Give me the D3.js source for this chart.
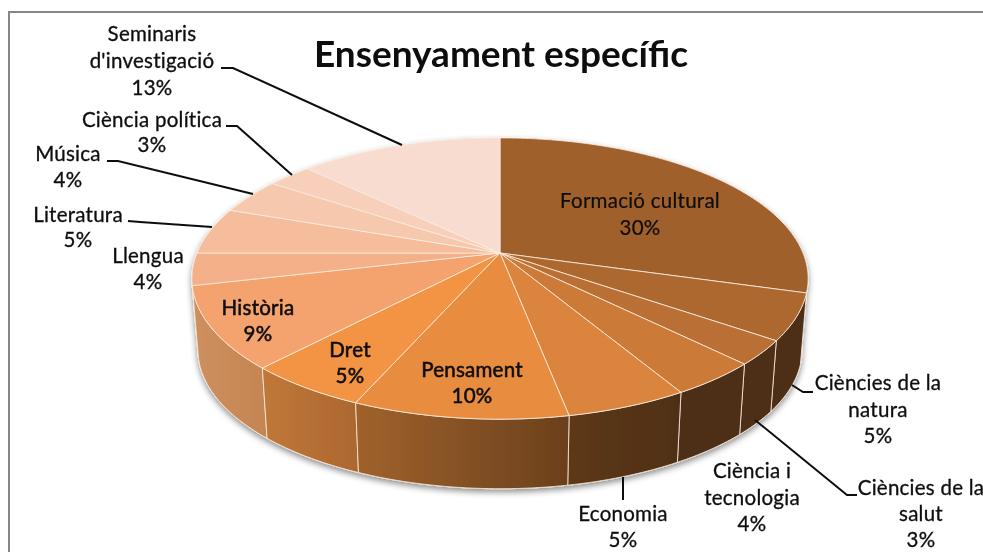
<!DOCTYPE html>
<html><head><meta charset="utf-8">
<script src="https://cdn.jsdelivr.net/npm/d3@7/dist/d3.min.js"></script>
<style>html,body{margin:0;padding:0;background:#fff}svg{display:block}text{font-family:Lato,"Open Sans",sans-serif;fill:#0d0d0d}</style>
</head><body><script>
const categories=["Formació cultural","Ciències de la natura","Ciències de la salut","Ciència i tecnologia","Economia","Pensament","Dret","Història","Llengua","Literatura","Música","Ciència política","Seminaris d'investigació"];
const values=[29.5,5.3,2.8,4.0,5.4,9.5,5.4,9.4,3.7,5.4,4.1,2.8,12.7];
const topColors=["#a0602c","#ad682f","#ba7034","#cc7a38","#da843e","#e88c40","#f39444","#f4a26e","#f4b088","#f5bd9c","#f6c8ae","#f7cfba","#f8dccf"];
const wallLeft=["#4e2e14","#4e2e14","#4e2e14","#4e2e14","#5e3818","#a0622c","#c0783a","#cf9060","#cf9060","#cf9060","#cf9060","#cf9060","#cf9060"];
const wallRight=["#4e2e14","#4e2e14","#4e2e14","#4e2e14","#4f2f15","#6b401c","#ac672f","#c48552","#cf9060","#cf9060","#cf9060","#cf9060","#cf9060"];
const titleText="Ensenyament específic";
const labelLayout=[
 {lines:["Formació cultural"],x:640,y:208,pctY:235,heavy:0.2},
 {lines:["Ciències de la","natura"],x:878,y:390,pctY:443,heavy:0.3},
 {lines:["Ciències de la","salut"],x:921,y:495,pctY:547,heavy:0.3},
 {lines:["Ciència i","tecnologia"],x:752,y:478,pctY:531,heavy:0.3},
 {lines:["Economia"],x:623,y:521,pctY:547,heavy:0.3},
 {lines:["Pensament"],x:472,y:377,pctY:403,heavy:0.55},
 {lines:["Dret"],x:350,y:357,pctY:383,heavy:0.55},
 {lines:["Història"],x:258,y:315,pctY:341,heavy:0.55},
 {lines:["Llengua"],x:148,y:263,pctY:289,heavy:0.3},
 {lines:["Literatura"],x:78,y:222,pctY:247,heavy:0.3},
 {lines:["Música"],x:68,y:161,pctY:187,heavy:0.3},
 {lines:["Ciència política"],x:152,y:127,pctY:152,heavy:0.3},
 {lines:["Seminaris","d'investigació"],x:152,y:41,pctY:95,heavy:0.3}
];
const leaders=[
 [[221,68],[233,68],[402,145]],
 [[226,126],[237,126],[292,175]],
 [[107,161],[118,161],[253,194]],
 [[128,221],[140,222],[212,227]],
 [[813,392],[803,392],[792,385]],
 [[857,495],[847,495],[755,420]],
 [[623,477],[623,500]]
];
const W=983,H=552,K=0.1815;
const rimTop={cx:500,cy:253,a:136,b:303};
const rimBottom={cx:500,cy:325,a:134,b:297};
const project=(r,t)=>{const X=Math.sin(t),Y=-Math.cos(t),w=1-K*Y;return [r.cx+r.b*X/w,r.cy+r.a*Y/w];};
const arcSamples=(a0,a1)=>d3.range(0,Math.ceil((a1-a0)/0.02)+1).map(i=>Math.min(a1,a0+i*0.02));
const line=d3.line();
const pie=d3.pie().sort(null).value(d=>d);
const slices=pie(values);
const svg=d3.select("body").append("svg").attr("width",W).attr("height",H);
const defs=svg.append("defs");
const shadow=defs.append("filter").attr("id","sh").attr("x","-5%").attr("y","-5%").attr("width","110%").attr("height","115%");
shadow.append("feDropShadow").attr("dx",0).attr("dy",3).attr("stdDeviation",3).attr("flood-color","#000").attr("flood-opacity",0.45);
const soft=defs.append("filter").attr("id","soft").attr("x","-2%").attr("y","-2%").attr("width","104%").attr("height","104%");
soft.append("feGaussianBlur").attr("stdDeviation",0.4);
svg.append("rect").attr("x",9).attr("y",12).attr("width",1000).attr("height",600).attr("fill","#fff").attr("stroke","#868686").attr("stroke-width",2);
const edge="rgba(250,238,225,0.8)";
const wallG=svg.append("g").attr("filter","url(#sh)");
slices.map((s,i)=>({s,i})).sort((p,q)=>Math.cos(q.s.startAngle)+Math.cos(q.s.endAngle)-Math.cos(p.s.startAngle)-Math.cos(p.s.endAngle)).forEach(({s,i})=>{
  const t=arcSamples(s.startAngle,s.endAngle);
  const up=t.map(a=>project(rimTop,a)),dn=t.map(a=>project(rimBottom,a)).reverse();
  const xs=up.concat(dn).map(p=>p[0]);
  const id="w"+i;
  const g=defs.append("linearGradient").attr("id",id).attr("gradientUnits","userSpaceOnUse").attr("x1",d3.min(xs)).attr("x2",d3.max(xs)).attr("y1",0).attr("y2",0);
  g.append("stop").attr("offset",0).attr("stop-color",wallLeft[i]);
  g.append("stop").attr("offset",1).attr("stop-color",wallRight[i]);
  wallG.append("path").attr("d",line(up.concat(dn))+"Z").attr("fill",`url(#${id})`).attr("stroke",edge).attr("stroke-width",1);
});
const topG=svg.append("g");
slices.forEach((s,i)=>{
  const pts=[[rimTop.cx,rimTop.cy]].concat(arcSamples(s.startAngle,s.endAngle).map(a=>project(rimTop,a)));
  topG.append("path").attr("d",line(pts)+"Z").attr("fill",topColors[i]).attr("stroke",edge).attr("stroke-width",1).attr("stroke-linejoin","round");
});
const leaderG=svg.append("g").attr("filter","url(#soft)");
leaders.forEach(p=>leaderG.append("path").attr("d",line(p)).attr("fill","none").attr("stroke","#111").attr("stroke-width",2));
const labelG=svg.append("g").attr("text-anchor","middle").attr("font-size",20.5).attr("letter-spacing",0.25).attr("filter","url(#soft)").style("stroke","#0d0d0d");
labelLayout.forEach((l,i)=>{
  l.lines.forEach((txt,j)=>{
    const n=l.lines.length;
    const y=n===1?l.y:l.y+(l.pctY-l.y)*j/n;
    labelG.append("text").attr("x",l.x).attr("y",y).style("stroke-width",l.heavy).text(txt);
  });
  labelG.append("text").attr("x",l.x).attr("y",l.pctY).style("stroke-width",l.heavy).text(Math.round(values[i])+"%");
});
svg.append("text").attr("x",501).attr("y",67).attr("text-anchor","middle").attr("font-size",37).attr("font-weight",700).attr("filter","url(#soft)").text(titleText);
</script></body></html>
